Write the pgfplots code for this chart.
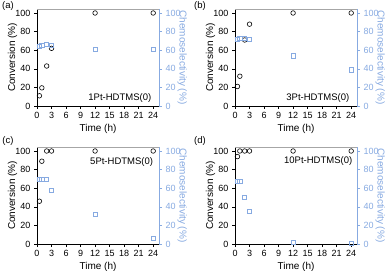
\documentclass[border=0pt]{standalone}
\usepackage{pgfplots}
\pgfplotsset{compat=1.18}
\usepackage{fontspec}
\setmainfont{Liberation Sans}
\definecolor{lblue}{RGB}{135,170,225}
\pgfplotsset{
 base/.style={scale only axis, width=122pt, height=97pt, xmin=0, xmax=25.2, ymin=0, ymax=104.3,
   xtick={0,3,...,24}, ytick={0,20,...,100}, tick align=outside, major tick length=3pt,
   ticklabel style={font=\fontsize{9}{10}\selectfont},
   label style={font=\fontsize{10}{11}\selectfont},
   /pgf/number format/assume math mode=true, clip=false},
 lft/.style={base, axis x line*=bottom, axis y line*=left, xlabel={Time (h)}, ylabel={Conversion (\%)},
   axis line style={black, line width=0.6pt}, tick style={black, line width=0.5pt},
   xlabel style={yshift=2pt}, ylabel style={at={(axis description cs:-0.2,0.5)}, anchor=center}},
 rgt/.style={base, axis y line*=right, axis x line=none, ylabel={Chemoselectivity (\%)},
   axis line style={lblue, line width=0.6pt}, tick style={lblue, line width=0.5pt},
   yticklabel style={text=lblue}, ylabel style={text=lblue, rotate=180, at={(axis description cs:1.19,0.5)}, anchor=center}},
 circ/.style={only marks, mark=o, mark size=2.3pt, mark options={line width=0.6pt, black}},
 sq/.style={only marks, mark=square, mark size=2.1pt, mark options={line width=0.6pt, lblue}},
}
\begin{document}
\begin{tikzpicture}
\path[use as bounding box] (0,0) rectangle (387pt,270pt);
% (a)
\begin{axis}[lft, at={(37pt,164pt)}, anchor=south west]
\draw[gray!70, line width=0.6pt] (rel axis cs:0,1) -- (rel axis cs:1,1);
\addplot[circ] coordinates {(0.5,11) (1,19.5) (2,43) (3,62) (12,100) (24,100)};
\node[anchor=east, font=\fontsize{9.5}{10}\selectfont] at (rel axis cs:0.965,0.085) {1Pt-HDTMS(0)};
\end{axis}
\begin{axis}[rgt, at={(37pt,164pt)}, anchor=south west]
\addplot[sq] coordinates {(0.5,64) (1,65) (2,66.5) (3,65) (12,61) (24,61)};
\end{axis}
% (b)
\begin{axis}[lft, at={(235pt,164pt)}, anchor=south west]
\draw[gray!70, line width=0.6pt] (rel axis cs:0,1) -- (rel axis cs:1,1);
\addplot[circ] coordinates {(0.5,21) (1,32) (2,71) (3,88) (12,100) (24,100)};
\node[anchor=east, font=\fontsize{9.5}{10}\selectfont] at (rel axis cs:0.965,0.085) {3Pt-HDTMS(0)};
\end{axis}
\begin{axis}[rgt, at={(235pt,164pt)}, anchor=south west]
\addplot[sq] coordinates {(0.5,72) (1,73) (2,73) (3,72) (12,54) (24,39)};
\end{axis}
% (c)
\begin{axis}[lft, at={(37pt,26pt)}, anchor=south west]
\draw[gray!70, line width=0.6pt] (rel axis cs:0,1) -- (rel axis cs:1,1);
\addplot[circ] coordinates {(0.5,46) (1,89) (2,100) (3,100) (12,100) (24,100)};
\node[anchor=east, font=\fontsize{9.5}{10}\selectfont] at (rel axis cs:0.98,0.84) {5Pt-HDTMS(0)};
\end{axis}
\begin{axis}[rgt, at={(37pt,26pt)}, anchor=south west]
\addplot[sq] coordinates {(0.5,70) (1,70) (2,70) (3,58) (12,32) (24,6)};
\end{axis}
% (d)
\begin{axis}[lft, at={(235pt,26pt)}, anchor=south west]
\draw[gray!70, line width=0.6pt] (rel axis cs:0,1) -- (rel axis cs:1,1);
\addplot[circ] coordinates {(0.5,94) (1,100) (2,100) (3,100) (12,100) (24,100)};
\node[anchor=east, font=\fontsize{9.5}{10}\selectfont] at (rel axis cs:0.99,0.86) {10Pt-HDTMS(0)};
\end{axis}
\begin{axis}[rgt, at={(235pt,26pt)}, anchor=south west]
\addplot[sq] coordinates {(0.5,67) (1,67) (2,50) (3,35) (12,2) (24,0.5)};
\end{axis}
\node[font=\fontsize{9.5}{10}\selectfont] at (8pt,264pt) {(a)};
\node[font=\fontsize{9.5}{10}\selectfont] at (200pt,264pt) {(b)};
\node[font=\fontsize{9.5}{10}\selectfont] at (8pt,129pt) {(c)};
\node[font=\fontsize{9.5}{10}\selectfont] at (200pt,129pt) {(d)};
\end{tikzpicture}
\end{document}
